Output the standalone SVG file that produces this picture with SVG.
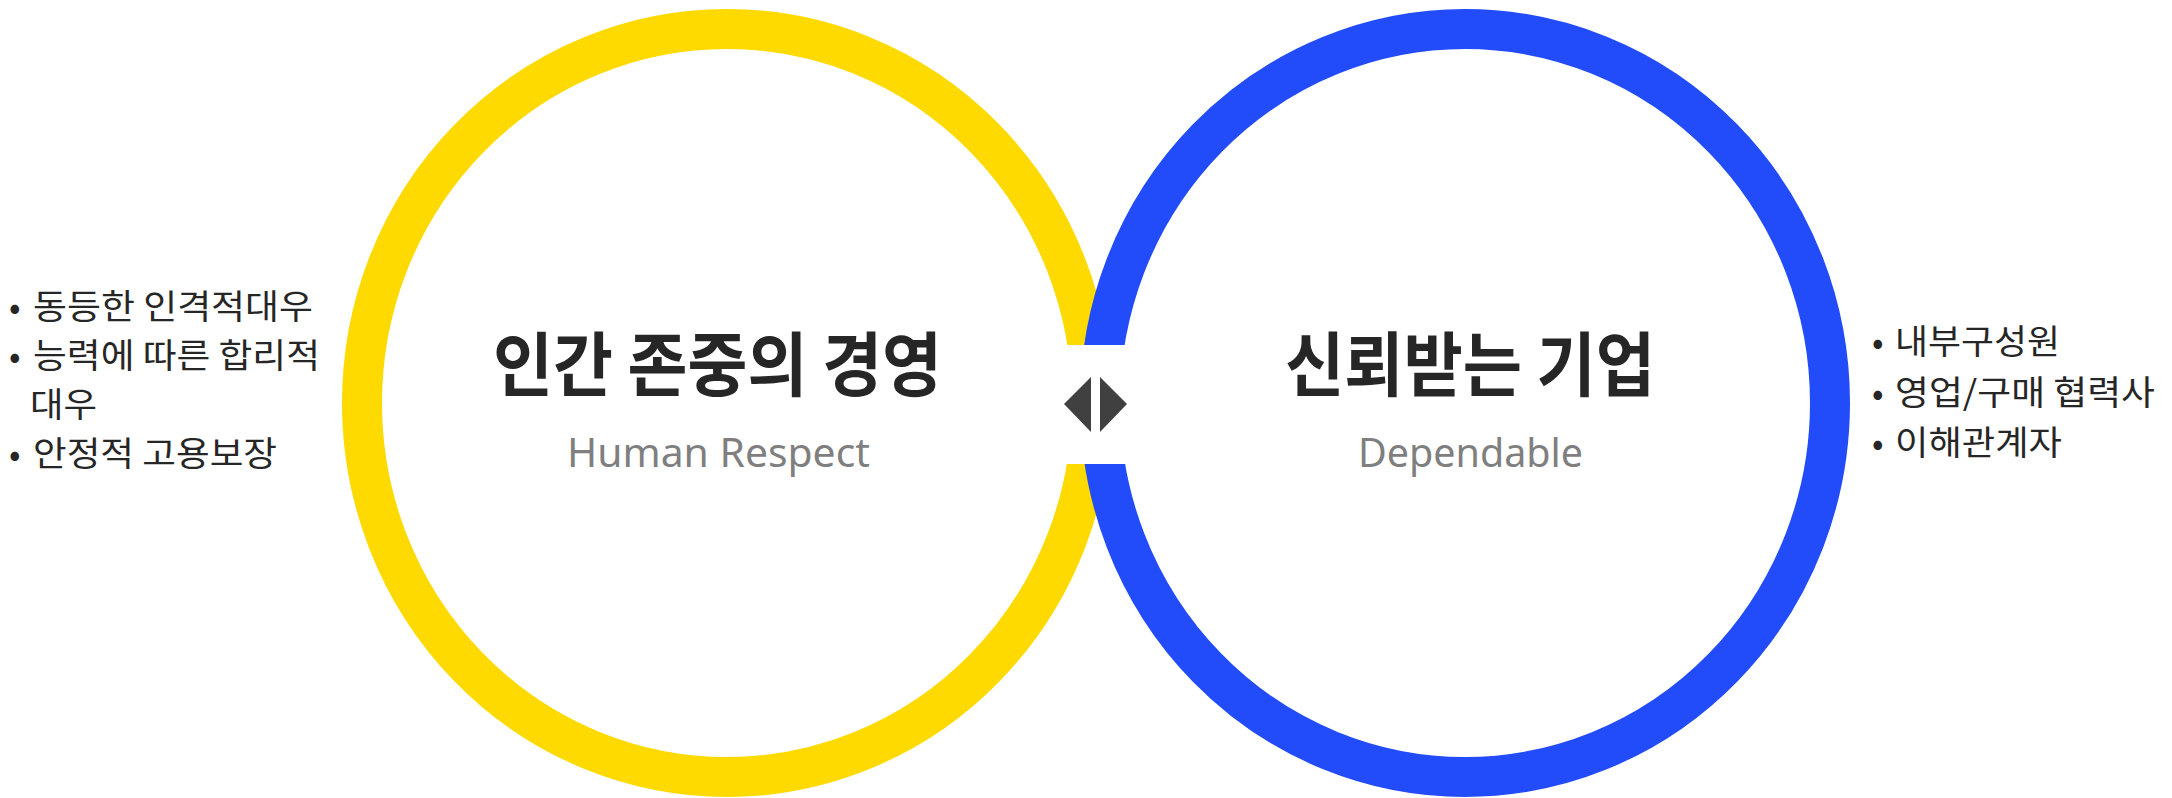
<svg xmlns="http://www.w3.org/2000/svg" width="2172" height="798" viewBox="0 0 2172 798">
<style>
.ring{fill:none;stroke-width:40}
.yellow{stroke:#FFDA00}
.blue{stroke:#224CF9}
.title{font-family:"Noto Sans CJK KR","Noto Sans",sans-serif;font-weight:700;fill:#262626;font-size:70px}
.sub{font-family:"Noto Sans","Open Sans",sans-serif;font-weight:400;fill:#7f7f7f;font-size:40px}
.item{font-family:"Noto Sans CJK KR","Noto Sans",sans-serif;font-weight:400;fill:#262626;font-size:34px}
.arrow{fill:#404040}
</style>
<rect width="2172" height="798" fill="#ffffff"/>
<g id="node-human-respect">
<ellipse class="ring yellow" cx="727" cy="403" rx="365" ry="374"/>
</g>
<g id="node-dependable">
<ellipse class="ring blue" cx="1465" cy="403" rx="365" ry="374"/>
</g>
<g id="connectors">
<rect x="1045" y="345" width="95" height="119" fill="#ffffff"/>
<polygon class="arrow" points="1064,404 1091,377 1091,432"/>
<polygon class="arrow" points="1100,377 1100,432 1127,404"/>
</g>
<g id="label-human-respect">
<text class="title" x="493" y="391" textLength="449" lengthAdjust="spacingAndGlyphs">인간 존중의 경영</text>
<text class="sub" x="567" y="466.5" textLength="303" lengthAdjust="spacingAndGlyphs">Human Respect</text>
</g>
<g id="label-dependable">
<text class="title" x="1285" y="391" textLength="370" lengthAdjust="spacingAndGlyphs">신뢰받는 기업</text>
<text class="sub" x="1358" y="466.5" textLength="225" lengthAdjust="spacingAndGlyphs">Dependable</text>
</g>
<g id="list-left">
<text class="item" y="319"><tspan x="9">•</tspan><tspan x="33" textLength="280" lengthAdjust="spacingAndGlyphs">동등한 인격적대우</tspan></text>
<text class="item" y="368"><tspan x="9">•</tspan><tspan x="33" textLength="287" lengthAdjust="spacingAndGlyphs">능력에 따른 합리적</tspan></text>
<text class="item" y="417"><tspan x="30" textLength="67" lengthAdjust="spacingAndGlyphs">대우</tspan></text>
<text class="item" y="466"><tspan x="9">•</tspan><tspan x="33" textLength="244" lengthAdjust="spacingAndGlyphs">안정적 고용보장</tspan></text>
</g>
<g id="list-right">
<text class="item" y="354"><tspan x="1872">•</tspan><tspan x="1895" textLength="165" lengthAdjust="spacingAndGlyphs">내부구성원</tspan></text>
<text class="item" y="405"><tspan x="1872">•</tspan><tspan x="1895" textLength="260" lengthAdjust="spacingAndGlyphs">영업/구매 협력사</tspan></text>
<text class="item" y="455"><tspan x="1872">•</tspan><tspan x="1895" textLength="167" lengthAdjust="spacingAndGlyphs">이해관계자</tspan></text>
</g>
</svg>
